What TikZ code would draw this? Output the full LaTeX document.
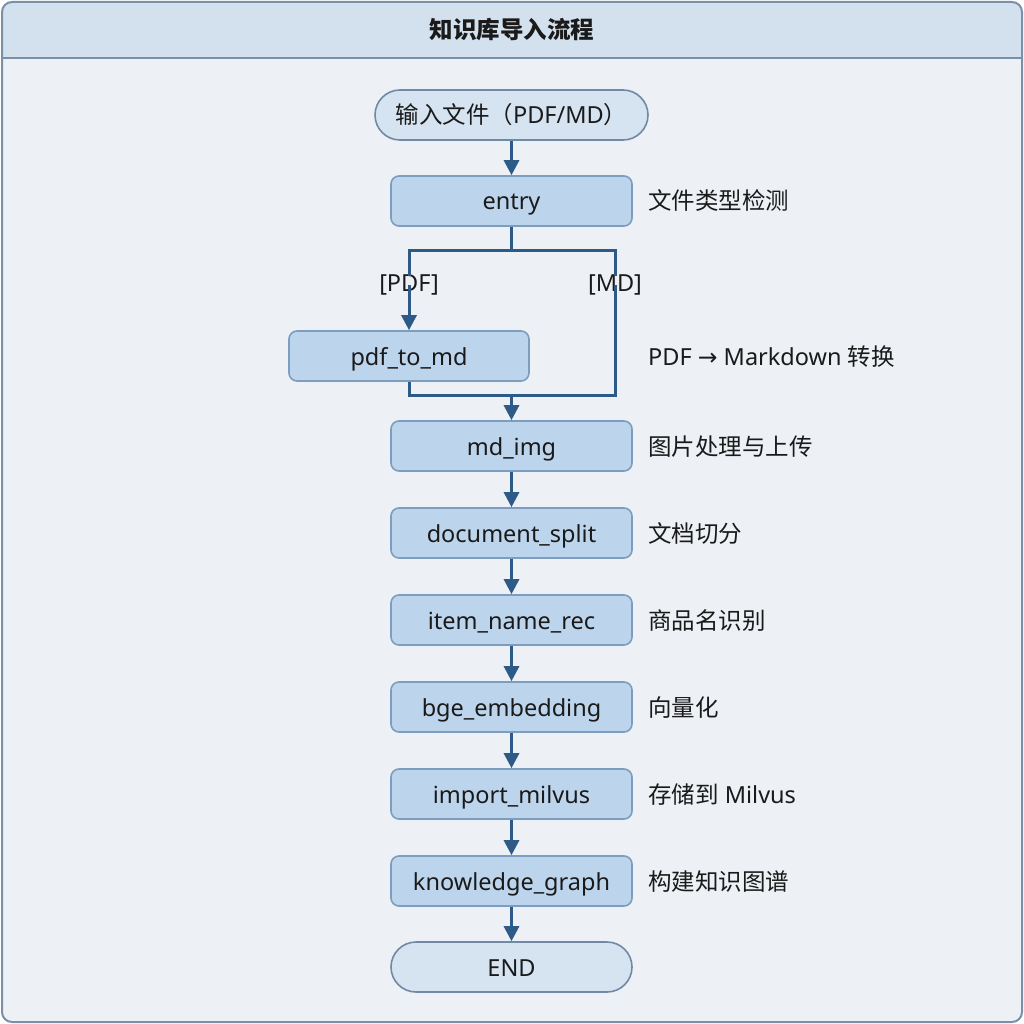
\documentclass[tikz,border=0pt]{standalone}
\usepackage{fontspec}
\setmainfont{Noto Sans}
\newfontfamily\cjk{Noto Sans CJK SC}
\newfontfamily\symf{DejaVu Sans}
\usetikzlibrary{arrows.meta,positioning}
\definecolor{framebd}{HTML}{7A8FA8}
\definecolor{bgc}{HTML}{EDF1F5}
\definecolor{hdr}{HTML}{D3E0ED}
\definecolor{boxfill}{HTML}{BDD5EC}
\definecolor{boxbd}{HTML}{7C9DC0}
\definecolor{termfill}{HTML}{D6E3F0}
\definecolor{termbd}{HTML}{7089A6}
\definecolor{arr}{HTML}{2D5A86}
\definecolor{txt}{HTML}{1A1A1A}
\begin{document}
\begin{tikzpicture}[x=1pt,y=-1pt,
  font=\fontsize{23.5}{26}\selectfont,
  every node/.append style={text height=18pt,text depth=0pt},
  stepbox/.style={draw=boxbd,fill=boxfill,line width=1.6pt,rounded corners=8pt,minimum width=241pt,minimum height=50pt,inner sep=0pt,text=txt},
  termbox/.style={draw=termbd,fill=termfill,line width=1.6pt,rounded corners=25pt,minimum height=50pt,inner sep=0pt,text=txt},
  side/.style={anchor=west,text=txt,inner sep=0pt},
  lbl/.style={text=txt,inner sep=0pt},
  flow/.style={draw=arr,line width=3pt},
  arrow/.style={flow,-{Triangle[length=15pt,width=15pt]}}]
\useasboundingbox (0,0) rectangle (1024,1024);
% frame
\fill[bgc,rounded corners=10pt] (2,2) rectangle (1022,1022);
\begin{scope}
\clip[rounded corners=10pt] (2,2) rectangle (1022,1022);
\fill[hdr] (2,2) rectangle (1022,58);
\end{scope}
\draw[framebd,line width=1.5pt] (2,58) -- (1022,58);
\draw[framebd,line width=2pt,rounded corners=10pt] (2,2) rectangle (1022,1022);
\node[lbl] (title) at (512,30) {\cjk\bfseries 知识库导入流程};
% nodes
\node[termbox,minimum width=273pt] (start) at (511.5,115) {{\cjk 输入文件（}PDF/MD{\cjk ）}};
\node[stepbox] (entry) at (511.5,201) {entry};
\node[stepbox,minimum width=240pt] (pdf) at (409,356) {pdf\_to\_md};
\node[stepbox] (mdimg) at (511.5,446) {md\_img};
\node[stepbox] (split) at (511.5,533) {document\_split};
\node[stepbox] (item) at (511.5,620) {item\_name\_rec};
\node[stepbox] (bge) at (511.5,707) {bge\_embedding};
\node[stepbox] (milvus) at (511.5,794) {import\_milvus};
\node[stepbox] (kg) at (511.5,881) {knowledge\_graph};
\node[termbox,minimum width=241pt] (end) at (511.5,967) {END};
% side labels
\node[side] (s1) at (648,201) {\cjk 文件类型检测};
\node[side] (s2) at (648,356) {PDF {\symf →} Markdown {\cjk 转换}};
\node[side] (s3) at (648,446) {\cjk 图片处理与上传};
\node[side] (s4) at (648,533) {\cjk 文档切分};
\node[side] (s5) at (648,620) {\cjk 商品名识别};
\node[side] (s6) at (648,707) {\cjk 向量化};
\node[side] (s7) at (648,794) {{\cjk 存储到} Milvus};
\node[side] (s8) at (648,881) {\cjk 构建知识图谱};
% branch labels
\node[lbl] (lpdf) at (409,282) {[PDF]};
\node[lbl] (lmd) at (615,282) {[MD]};
\coordinate (split1) at (511.5,250);
\coordinate (join) at (511.5,395);
% connectors
\draw[arrow] (start) -- (entry);
\draw[flow] (entry.south) -- (split1);
\draw[flow] (split1) -| ([yshift=-3pt]lpdf.north);
\draw[flow] (split1) -| ([yshift=-3pt]lmd.north);
\draw[arrow] ([yshift=6pt]lpdf.south) -- (pdf.north);
\draw[flow] ([yshift=6pt]lmd.south) |- (join);
\draw[flow] (pdf.south) |- (join);
\draw[arrow] (join) -- (mdimg.north);
\draw[arrow] (mdimg) -- (split);
\draw[arrow] (split) -- (item);
\draw[arrow] (item) -- (bge);
\draw[arrow] (bge) -- (milvus);
\draw[arrow] (milvus) -- (kg);
\draw[arrow] (kg) -- (end);
\end{tikzpicture}
\end{document}
